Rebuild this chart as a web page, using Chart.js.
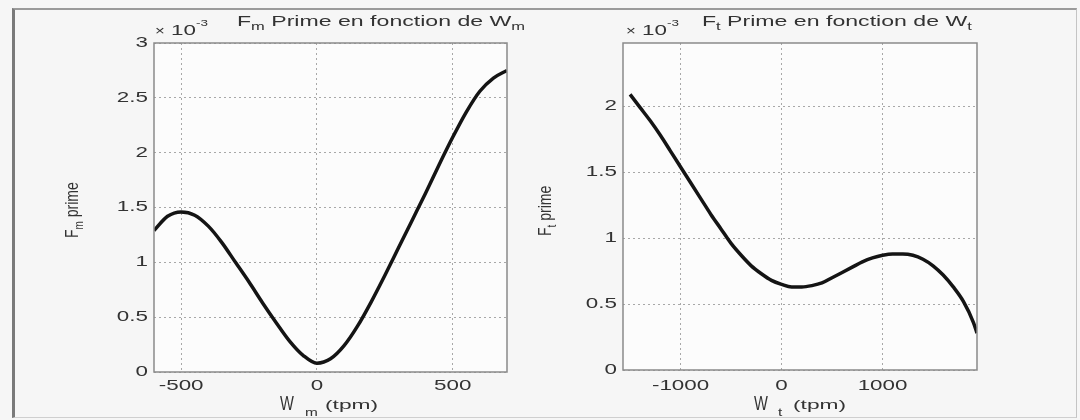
<!DOCTYPE html>
<html>
<head>
<meta charset="utf-8">
<script src="https://cdn.jsdelivr.net/npm/chart.js@4.4.1/dist/chart.umd.min.js"></script>
<style>
  html, body { margin: 0; padding: 0; background: #f6f6f6; }
  #wrap { position: relative; width: 1080px; height: 420px; overflow: hidden; }
  #frame { position: absolute; left: 12px; top: 8px; width: 1061px; height: 407px;
           border-left: 3px solid #7a7a7a; border-top: 2px solid #9a9a9a;
           border-right: 1px solid #c4c4c4; border-bottom: 1px solid #cfcfcf; }
  canvas { position: absolute; left: 0; top: 0; }
</style>
</head>
<body>
<div id="wrap">
  <div id="frame"></div>
  <canvas id="plot-m" width="1080" height="420"></canvas>
  <canvas id="plot-t" width="1080" height="420"></canvas>
</div>
<script>
const FONT = '"Liberation Sans", Arial, sans-serif';
const TEXT = '#333333';

// F_m prime (x 10^-3) vs W_m (tpm)
const wmValues = [-600, -550, -500, -450, -400, -350, -300, -250, -200, -150, -100, -50, 0,
                  50, 100, 150, 200, 250, 300, 350, 400, 450, 500, 550, 600, 650, 700];
const fmValues = [1.29, 1.42, 1.46, 1.43, 1.33, 1.18, 1.00, 0.82, 0.63, 0.45, 0.28, 0.15, 0.08,
                  0.12, 0.24, 0.42, 0.64, 0.88, 1.13, 1.38, 1.63, 1.89, 2.14, 2.37, 2.56, 2.68, 2.75];

// F_t prime (x 10^-3) vs W_t (tpm)
const wtValues = [-1500, -1400, -1300, -1200, -1100, -1000, -900, -800, -700, -600, -500, -400, -300,
                  -200, -100, 0, 100, 200, 300, 400, 500, 600, 700, 800, 900, 1000, 1100, 1200,
                  1300, 1400, 1500, 1600, 1700, 1800, 1900, 1935];
const ftValues = [2.09, 1.99, 1.89, 1.78, 1.66, 1.54, 1.42, 1.30, 1.18, 1.07, 0.96, 0.87, 0.79,
                  0.73, 0.68, 0.65, 0.63, 0.63, 0.64, 0.66, 0.70, 0.74, 0.78, 0.82, 0.85, 0.87, 0.88, 0.88,
                  0.87, 0.84, 0.79, 0.72, 0.63, 0.52, 0.36, 0.28];

const wmTicks = [-500, 0, 500];
const fmTicks = [0, 0.5, 1, 1.5, 2, 2.5, 3];
const wtTicks = [-1000, 0, 1000];
const ftTicks = [0, 0.5, 1, 1.5, 2];

// parts: [text, size, dy, sx], drawn left to right from x
function drawParts(ctx, x, y, parts) {
    let cx = x;
    parts.forEach(([t, size, dy, sx]) => {
        ctx.save();
        ctx.font = `${size}px ${FONT}`;
        ctx.translate(cx, y + dy);
        ctx.scale(sx, 1);
        ctx.fillText(t, 0, 0);
        cx += ctx.measureText(t).width * sx;
        ctx.restore();
    });
    return cx;
}

function textWidth(ctx, t, size, sx) {
    ctx.font = `${size}px ${FONT}`;
    return ctx.measureText(t).width * sx;
}

const decor = {
    id: 'decor',
    beforeDraw(chart) {
        const { ctx, chartArea: a } = chart;
        ctx.save();
        ctx.fillStyle = '#fcfcfc';
        ctx.fillRect(a.left, a.top, a.width, a.height);
        ctx.restore();
    },
    afterDraw(chart, args, o) {
        const { ctx, chartArea: a, scales } = chart;
        ctx.save();
        ctx.strokeStyle = '#8a8a8a';
        ctx.lineWidth = 1.5;
        ctx.strokeRect(a.left, a.top, a.width, a.height);

        ctx.fillStyle = TEXT;
        ctx.textAlign = 'left';
        ctx.textBaseline = 'middle';
        scales.y.ticks.forEach(t => {
            const label = String(t.value);
            const w = textWidth(ctx, label, 14, 1.6);
            drawParts(ctx, a.left - 6 - w, scales.y.getPixelForValue(t.value), [[label, 14, 0, 1.6]]);
        });
        ctx.textBaseline = 'alphabetic';
        scales.x.ticks.forEach(t => {
            const label = String(t.value);
            const w = textWidth(ctx, label, 14, 1.6);
            drawParts(ctx, scales.x.getPixelForValue(t.value) - w / 2, 390, [[label, 14, 0, 1.6]]);
        });

        // title and exponent
        drawParts(ctx, o.titleX, 26, o.title);
        drawParts(ctx, o.expX, 35, [['×', 12, 0, 1.4], [' 10', 14, 0, 1.6], ['-3', 9, -9, 1.5]]);

        // x label
        o.xLabel.forEach(([t, size, x, y, sx]) => drawParts(ctx, x, y, [[t, size, 0, sx]]));

        // y label, rotated
        ctx.translate(o.yLabelX, o.yLabelY);
        ctx.rotate(-Math.PI / 2);
        ctx.scale(1, 1.3);
        drawParts(ctx, 0, 0, o.yLabel);
        ctx.restore();
    }
};

function makePlot(canvasId, xs, ys, xTicks, yTicks, box, xRange, yRange, deco) {
    const points = xs.map((x, i) => ({ x: x, y: ys[i] }));
    const grid = { color: '#a8a8a8', lineWidth: 1, drawTicks: false };
    const border = { display: false, dash: [2, 3] };
    return new Chart(document.getElementById(canvasId), {
        type: 'line',
        data: {
            datasets: [{
                data: points,
                borderColor: '#141414',
                borderWidth: 3.5,
                pointRadius: 0,
                fill: false,
                cubicInterpolationMode: 'monotone'
            }]
        },
        options: {
            responsive: false,
            animation: false,
            devicePixelRatio: 1,
            layout: { padding: { left: 0, top: box.top, right: 1080 - box.right, bottom: 420 - box.bottom - 20 } },
            plugins: { legend: { display: false }, tooltip: { enabled: false }, decor: deco },
            scales: {
                x: {
                    type: 'linear', min: xRange[0], max: xRange[1],
                    ticks: { display: false },
                    afterBuildTicks: s => { s.ticks = xTicks.map(v => ({ value: v })); },
                    afterFit: s => { s.height = 20; },
                    grid: grid, border: border
                },
                y: {
                    type: 'linear', min: yRange[0], max: yRange[1],
                    ticks: { display: false },
                    afterBuildTicks: s => { s.ticks = yTicks.map(v => ({ value: v })); },
                    afterFit: s => { s.width = box.left; },
                    grid: grid, border: border
                }
            }
        },
        plugins: [decor]
    });
}

makePlot('plot-m', wmValues, fmValues, wmTicks, fmTicks,
    { left: 154, right: 507, top: 43, bottom: 372 }, [-600, 700], [0, 3], {
        titleX: 237,
        title: [['F', 14, 0, 1.65], ['m', 10, 4, 1.65], [' Prime en fonction de ', 14, 0, 1.65], ['W', 14, 0, 1.65], ['m', 10, 4, 1.65]],
        expX: 155,
        xLabel: [['W', 21, 280, 410, 0.7], ['m', 11, 305, 416, 1.4], ['(tpm)', 13, 325, 409, 1.75]],
        yLabelX: 78, yLabelY: 238,
        yLabel: [['F', 14, 0, 1], ['m', 10, 4, 1], [' prime', 14, 0, 1]]
    });

makePlot('plot-t', wtValues, ftValues, wtTicks, ftTicks,
    { left: 623, right: 977, top: 43, bottom: 370 }, [-1570, 1935], [0, 2.48], {
        titleX: 702,
        title: [['F', 14, 0, 1.65], ['t', 10, 4, 1.65], [' Prime en fonction de ', 14, 0, 1.65], ['W', 14, 0, 1.65], ['t', 10, 4, 1.65]],
        expX: 626,
        xLabel: [['W', 21, 754, 410, 0.7], ['t', 11, 778, 416, 1.4], ['(tpm)', 13, 793, 409, 1.75]],
        yLabelX: 551, yLabelY: 236,
        yLabel: [['F', 14, 0, 1], ['t', 10, 4, 1], [' prime', 14, 0, 1]]
    });
</script>
</body>
</html>
